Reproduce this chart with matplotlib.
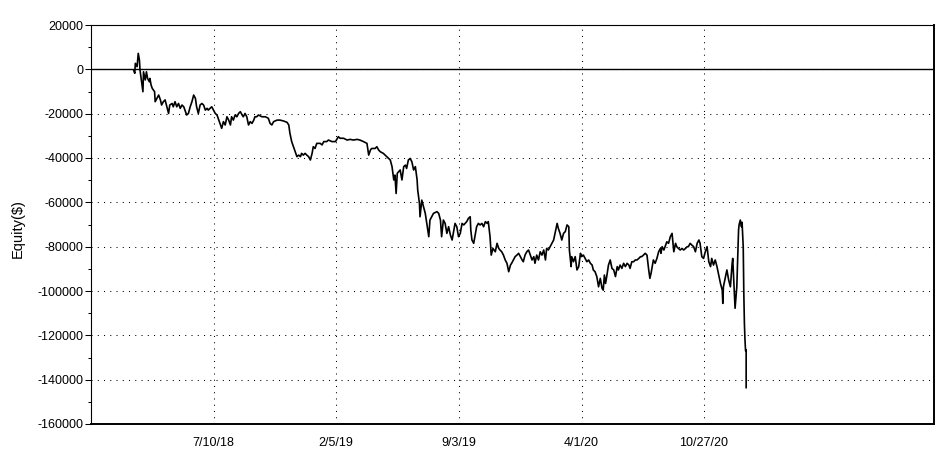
import pandas as pd
import matplotlib
matplotlib.use('Agg')
import matplotlib.pyplot as plt
from matplotlib.ticker import MultipleLocator

# equity curve (days counted from 7/10/18)
base_date = '2018-07-10'

days = [
    -137, -135, -134, -131, -129, -127, -126, -123, -121, -120,
    -117, -115, -113, -110, -109, -107, -105, -101, -100, -97,
    -94, -91, -89, -86, -83, -80, -77, -75, -71, -69,
    -66, -63, -60, -57, -54, -51, -49, -46, -43, -40,
    -37, -34, -31, -29, -26, -23, -20, -17, -14, -11,
    -9, -6, -3, 0, 3, 6, 9, 11, 14, 17,
    20, 23, 26, 29, 31, 34, 37, 40, 43, 46,
    49, 51, 54, 57, 60, 63, 66, 69, 71, 74,
    77, 83, 89, 94, 97, 100, 103, 109, 114, 120,
    126, 129, 131, 134, 137, 140, 143,
    146, 149, 151, 154, 157, 160, 163, 166, 169, 171,
    174, 177, 183, 186, 189, 194, 197, 203, 209, 214,
    217, 223, 229, 234, 240, 246, 251, 257, 263, 266,
    269, 271, 277, 280, 283, 286, 291, 297, 300, 303,
    306, 309, 311, 313, 315, 320, 323, 326, 329, 331,
    334, 337, 340, 343, 346, 349, 350, 353, 354, 357,
    360, 363, 366, 369, 371, 374, 377, 383,
    386, 389, 391, 394, 397, 400, 403, 406, 409, 411,
    414, 417, 420, 423, 426, 429, 434, 437, 440, 441,
    443, 446, 449, 451, 454, 457, 460, 463, 466, 469,
    471, 474, 476, 479, 483, 486, 489, 491, 494, 497,
    500, 503, 506, 509, 511, 514, 517, 520, 523, 526,
    529, 531, 534, 537, 540, 543, 546, 549, 551, 554,
    557, 560, 563, 566, 569, 571, 574, 577, 580, 583,
    586, 589, 591, 594, 597, 600, 603, 606, 609, 610,
    613, 614, 617, 620, 623, 626, 629, 631, 634, 637,
    640, 643, 646, 649, 651, 654, 657, 660,
    663, 666, 668, 670, 672, 674, 677, 680, 683, 686,
    689, 692, 694, 697, 700, 703, 706, 709, 712, 714,
    717, 720, 723, 726, 729, 732, 734, 737, 740, 743,
    746, 748, 750, 752, 754, 757, 760, 763, 766, 767,
    769, 772, 774, 777, 780, 783, 786, 789, 792, 794,
    797, 800, 803, 806, 809, 812, 814, 817, 820, 823,
    826, 829, 832, 834, 837, 840, 843, 846, 849, 852,
    854, 857, 860, 863, 866, 869, 872, 873, 874, 877,
    880, 883, 886, 889, 890, 893, 894, 897, 900, 901,
    903, 905, 906, 908, 909, 910, 911, 912, 913, 913,
]

equity = [
    -300, -1800, 2700, 1200, 7200, 4200, -300, -6300, -10100, -1100,
    -4800, -1100, -4100, -5600, -4100, -7100, -8600, -10100, -14600, -13100,
    -11600, -13800, -16100, -14600, -13800, -16900, -19900, -16100, -15400, -16900,
    -14600, -16900, -15400, -17600, -16100, -16900, -18400, -20600, -19900, -16900,
    -14600, -11600, -13100, -16900, -19900, -16100, -15400, -16100, -18400, -17600,
    -18400, -17600, -16900, -18400, -19900, -20600, -22900, -24400, -26600, -23600,
    -25100, -21400, -22900, -25100, -21400, -22900, -20600, -21400, -19900, -19100,
    -20600, -21400, -19900, -21400, -25100, -23600, -24400, -22900, -21400, -21400,
    -20600, -21400, -21400, -22100, -24400, -25100, -23600, -22900, -22900, -23300,
    -23900, -25100, -28900, -32600, -34900, -37200, -39400,
    -38700, -39400, -37900, -38700, -37900, -38700, -39400, -40900, -37900, -34900,
    -35700, -33400, -33400, -34100, -32600, -32600, -31900, -32600, -32600, -30400,
    -31100, -31100, -31900, -31600, -31900, -31600, -31900, -32600, -33400, -38700,
    -36400, -35700, -35700, -34900, -36400, -37200, -37900, -39400, -40200, -40900,
    -43900, -49900, -47700, -56000, -46900, -45400, -49900, -43900, -43200, -44700,
    -40900, -40200, -41700, -45400, -43900, -49900, -54400, -60500, -66500, -59000,
    -62000, -65000, -70200, -75500, -68000, -66500, -65000, -64200,
    -65000, -68000, -75500, -68000, -69500, -74000, -71000, -74700, -77000, -74000,
    -69500, -71000, -75500, -74000, -69500, -70200, -68700, -67200, -66500, -72500,
    -77000, -78500, -74000, -71000, -69500, -70200, -69500, -71000, -68700, -69500,
    -68700, -75500, -83800, -80800, -82300, -78500, -80800, -81500, -82300, -83800,
    -86000, -87500, -91300, -88300, -87500, -86000, -84500, -83800, -83000, -84500,
    -86000, -86800, -83800, -82300, -81500, -83800, -86000, -84500, -87500, -83800,
    -86000, -82300, -83800, -81500, -86000, -80800, -81500, -80000, -78500, -77000,
    -73200, -69500, -71700, -74000, -77000, -74000, -73200, -70200, -71000, -81500,
    -89000, -84500, -86800, -84500, -90500, -89000, -83000, -84500, -83800, -85300,
    -86800, -86000, -87500, -88300, -90500, -91300, -93500, -98100,
    -94300, -98800, -99600, -92800, -96600, -93500, -88300, -86000, -89800, -90500,
    -93500, -89000, -90500, -88300, -89800, -87500, -89000, -87500, -88300, -89800,
    -86800, -86800, -86000, -86000, -85300, -84500, -84500, -83800, -83000, -83800,
    -90500, -94300, -92000, -89000, -86000, -87500, -85300, -82300, -80800, -83000,
    -80000, -81500, -80000, -77800, -78500, -75500, -74000, -82300, -78500, -80000,
    -80800, -81500, -80800, -81500, -80800, -80000, -80000, -78500, -79300, -80000,
    -82300, -78500, -77000, -78500, -84500, -85300, -82300, -80000, -86800, -89000,
    -85300, -88300, -86000, -89000, -92800, -96600, -99600, -105600, -98100, -94300,
    -90500, -95000, -98100, -87500, -85300, -102600, -107800, -98100, -72500, -70000,
    -68000, -71000, -69000, -80000, -101100, -114500, -122100, -127000, -126600, -143600,
]

tick_dates = ['2018-07-10', '2019-02-05', '2019-09-03', '2020-04-01', '2020-10-27']
tick_labels = ['7/10/18', '2/5/19', '9/3/19', '4/1/20', '10/27/20']
x_start = '2017-12-12'
x_end = '2021-11-26'

assert len(days) == len(equity)

plt.rcParams['font.family'] = ['Liberation Sans', 'DejaVu Sans']
plt.rcParams['axes.unicode_minus'] = False

dates = pd.Timestamp(base_date) + pd.to_timedelta(days, unit='D')

fig = plt.figure(figsize=(9.39, 4.54), dpi=100)
ax = fig.add_axes([91 / 939, 1 - 424 / 454, 843 / 939, 399 / 454])

ax.plot(dates, equity, color='black', lw=1.2)
ax.axhline(0, color='black', lw=1.0)

ax.set_ylim(-160000, 20000)
ax.set_xlim(pd.Timestamp(x_start), pd.Timestamp(x_end))
ax.yaxis.set_major_locator(MultipleLocator(20000))
ax.yaxis.set_minor_locator(MultipleLocator(10000))
ax.set_xticks(pd.to_datetime(tick_dates))
ax.set_xticklabels(tick_labels)

ax.grid(True, which='major', color='black', linestyle=(0, (1, 5)), lw=0.75)

ax.tick_params(axis='y', which='major', length=4.3, width=0.75, labelsize=9, pad=1)
ax.tick_params(axis='y', which='minor', length=2.2, width=0.75)
ax.tick_params(axis='x', length=0, labelsize=9, pad=9)

for side in ['left', 'top']:
    ax.spines[side].set_linewidth(0.8)
for side in ['right', 'bottom']:
    ax.spines[side].set_linewidth(1.4)

ax.set_ylabel('Equity($)', fontsize=10.5)
ax.yaxis.set_label_coords(-66 / 843, 0.489)

fig.savefig('out.png', dpi=100)
